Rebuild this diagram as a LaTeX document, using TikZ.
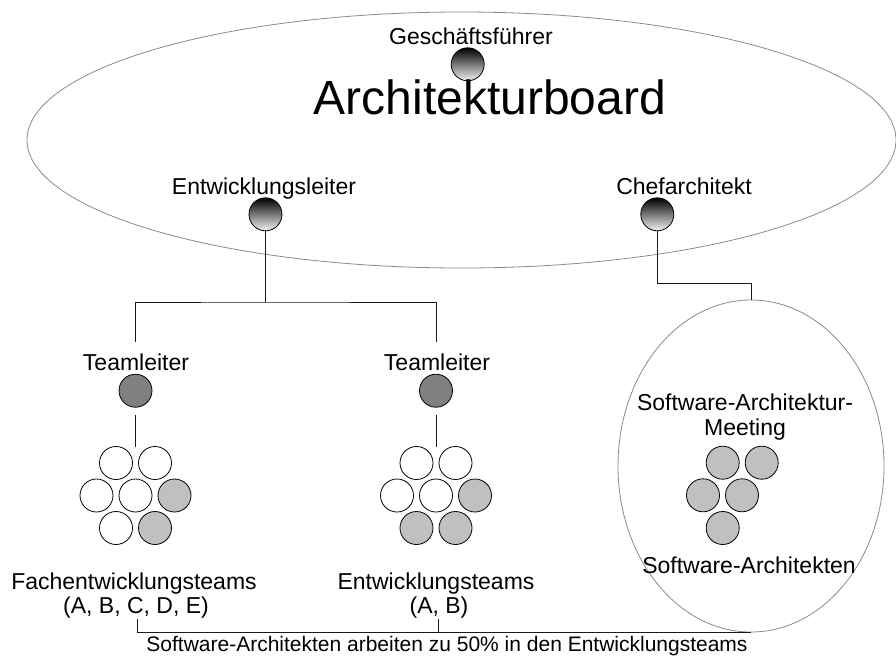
\documentclass[tikz,border=0pt]{standalone}
\usepackage{fontspec}
\setmainfont{Liberation Sans}
\usetikzlibrary{shapes.geometric}
\definecolor{rimgray}{HTML}{8A8A8A}
\definecolor{leadgray}{HTML}{808080}
\definecolor{archgray}{HTML}{C0C0C0}
\begin{document}
\begin{tikzpicture}[x=1pt,y=-1pt,
  lbl/.style={anchor=base, inner sep=0pt, font=\fontsize{23}{26}\selectfont},
  notefont/.style={anchor=base, inner sep=0pt, font=\fontsize{21}{24}\selectfont},
  rim/.style={ellipse, draw=rimgray, line width=0.8pt, inner sep=0pt},
  dot/.style={circle, draw=black, line width=0.8pt, minimum size=33pt, inner sep=0pt},
  boss/.style={dot, top color=black, bottom color=white!95!black},
  lead/.style={dot, fill=leadgray},
  member/.style={dot, fill=white},
  arch/.style={dot, fill=archgray},
  conn/.style={draw=black!90, line width=1pt}]
\useasboundingbox (0,0) rectangle (896,657);

% board and meeting outlines
\node[rim, minimum width=869pt, minimum height=256pt] (board) at (461.5,140) {};
\node[rim, minimum width=266pt, minimum height=332pt] (meeting) at (751,466) {};

% board members
\node[lbl] (ceoLabel) at (471,44) {Geschäftsführer};
\node[boss] (ceo) at (467.7,64.3) {};
\node[anchor=base, inner sep=0pt, font=\fontsize{48}{54}\selectfont] (boardLabel) at (490,114) {Architekturboard};
\node[lbl] (devleadLabel) at (264,194) {Entwicklungsleiter};
\node[boss] (devlead) at (265.5,214.3) {};
\node[lbl] (chiefLabel) at (684,194) {Chefarchitekt};
\node[boss] (chief) at (657.3,214.3) {};

% team leads
\node[lbl] (leadALabel) at (136,370.5) {Teamleiter};
\node[lead] (leadA) at (135.5,390.7) {};
\node[lbl] (leadBLabel) at (437,370.5) {Teamleiter};
\node[lead] (leadB) at (436,390.7) {};

% Fachentwicklungsteams
\node[member] (fA1) at (116,463) {};
\node[member] (fA2) at (155,463) {};
\node[member] (fB1) at (96.5,495.5) {};
\node[member] (fB2) at (135.5,495.5) {};
\node[arch]   (fB3) at (174.5,495.5) {};
\node[member] (fC1) at (116,528) {};
\node[arch]   (fC2) at (155,528) {};
\node[lbl] (fachLabel) at (134,589) {Fachentwicklungsteams};
\node[lbl] (fachSub) at (136,613) {(A, B, C, D, E)};

% Entwicklungsteams
\node[member] (eA1) at (416.5,463) {};
\node[member] (eA2) at (455.5,463) {};
\node[member] (eB1) at (397,495.5) {};
\node[member] (eB2) at (436,495.5) {};
\node[arch]   (eB3) at (475,495.5) {};
\node[arch]   (eC1) at (416.5,528) {};
\node[arch]   (eC2) at (455.5,528) {};
\node[lbl] (devLabel) at (436,589) {Entwicklungsteams};
\node[lbl] (devSub) at (439,613) {(A, B)};

% software architects
\node[lbl] (meetLabel) at (745,410.5) {Software-Architektur-};
\node[lbl] (meetLabel2) at (745,435) {Meeting};
\node[arch] (s1) at (722.7,462.7) {};
\node[arch] (s2) at (761.7,462.7) {};
\node[arch] (s3) at (703,495.3) {};
\node[arch] (s4) at (742,495.3) {};
\node[arch] (s5) at (722.7,528) {};
\node[lbl] (archLabel) at (749,573) {Software-Architekten};

\node[notefont] (note) at (447,651.5) {Software-Architekten arbeiten zu 50\% in den Entwicklungsteams};

% connectors
\coordinate (split) at (265.5,302);
\coordinate (teamAin) at (135.5,342);
\coordinate (teamBin) at (436,342);
\draw[conn] (devlead) -- (split);
\draw[conn] (teamAin) |- (split) -| (teamBin);

\coordinate (fachTop) at (135.5,447);
\coordinate (devTop) at (436,447);
\draw[conn] ([yshift=-7pt]leadA.south) -- (fachTop);
\draw[conn] ([yshift=-7pt]leadB.south) -- (devTop);

\coordinate (chiefBend) at (657.3,283);
\draw[conn] (chief.south) -- (chiefBend) -| (meeting.north);

\coordinate (fachOut) at (137,619);
\coordinate (devOut) at (438,619);
\draw[conn] (fachOut) |- (meeting.south);
\draw[conn] (devOut) -- (devOut |- meeting.south);
\end{tikzpicture}
\end{document}
